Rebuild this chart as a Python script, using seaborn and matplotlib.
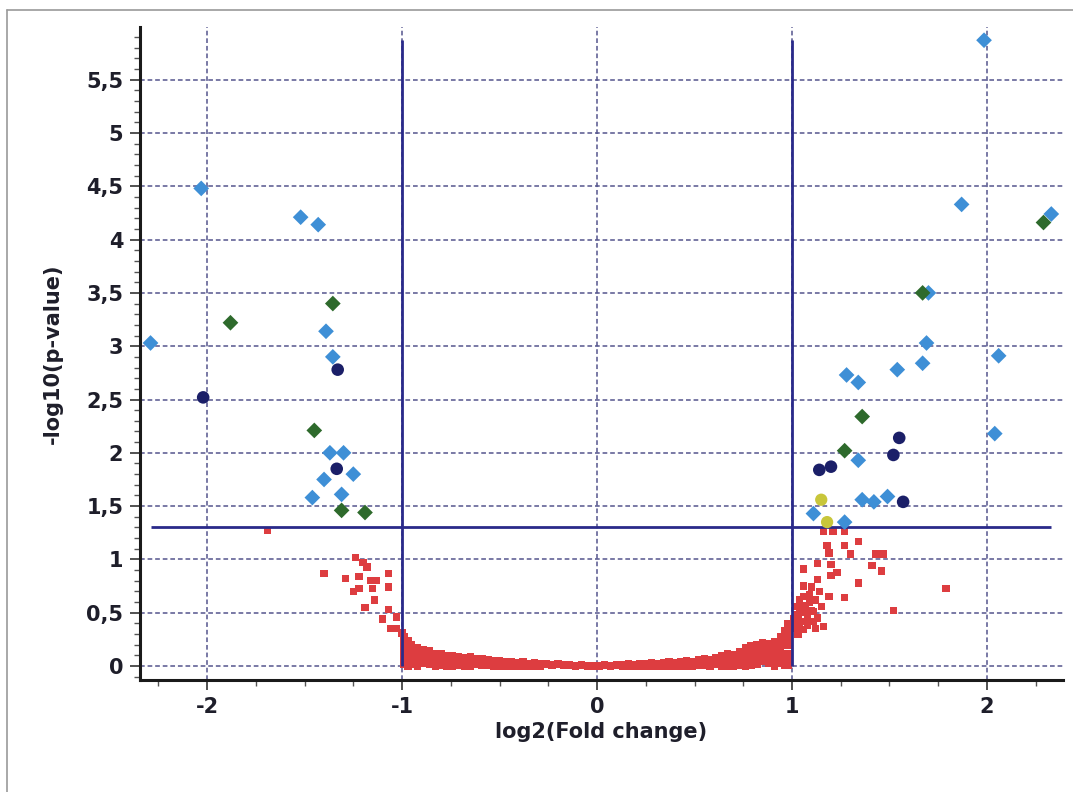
import matplotlib
matplotlib.use("Agg")
import matplotlib.pyplot as plt
import seaborn as sns
import pandas as pd
from matplotlib.lines import Line2D
from matplotlib.ticker import FixedLocator, MultipleLocator

# ---- significant proteins, by class ----
blue_x = [-2.29, -2.03, -1.52, -1.43, -1.39, -1.355, -1.37, -1.30, -1.40, -1.25, -1.46, -1.31,
          1.69, 1.67, 1.28, 1.34, 1.54, 2.06, 2.04, 1.34, 1.36, 1.42, 1.49, 1.11, 1.27,
          1.985, 1.87, 2.33, 1.70]
blue_y = [3.03, 4.48, 4.21, 4.14, 3.14, 2.90, 2.00, 2.00, 1.75, 1.80, 1.58, 1.61,
          3.03, 2.84, 2.73, 2.66, 2.78, 2.91, 2.18, 1.93, 1.56, 1.54, 1.59, 1.43, 1.35,
          5.87, 4.33, 4.24, 3.50]

green_x = [-1.88, -1.355, -1.45, -1.31, -1.19, 1.36, 1.27, 2.29, 1.67]
green_y = [3.22, 3.40, 2.21, 1.46, 1.44, 2.34, 2.02, 4.16, 3.50]

navy_x = [-2.02, -1.33, -1.335, 1.55, 1.52, 1.14, 1.20, 1.57]
navy_y = [2.52, 2.78, 1.85, 2.14, 1.98, 1.84, 1.87, 1.54]

yellow_x = [1.15, 1.18]
yellow_y = [1.56, 1.35]

# ---- non-significant proteins ----
ns_x = [-1.69, -1.24, -1.20, -1.18, -1.40, -1.29, -1.22, -1.07, -1.16, -1.13, -1.22, -1.25,
        -1.15, -1.07, -1.14, -1.19, -1.07, -1.10, -1.03, -1.06, -1.03, -1.00,
        1.16, 1.21, 1.27, 1.34, 1.27, 1.18, 1.19, 1.30, 1.43, 1.47, 1.13, 1.20, 1.41, 1.06,
        1.23, 1.46, 1.20, 1.13, 1.34, 1.79, 1.06, 1.10, 1.19, 1.27, 1.14, 1.06, 1.09, 1.52,
        1.06, 1.11, 1.02, 1.08, 1.16, 1.04, 1.02, 1.11, 1.06,
        1.01, 1.03, 1.05, 1.07, 1.04, 1.09, 1.02, 1.12, 1.08, 1.13, 1.15, 1.03, 1.10, 1.06,
        1.01, 1.04, 1.08, 1.12]
ns_y = [1.27, 1.02, 0.97, 0.93, 0.87, 0.82, 0.84, 0.87, 0.80, 0.80, 0.73, 0.70,
        0.73, 0.74, 0.62, 0.55, 0.53, 0.44, 0.46, 0.35, 0.35, 0.31,
        1.26, 1.26, 1.26, 1.17, 1.13, 1.13, 1.06, 1.05, 1.05, 1.05, 0.96, 0.95, 0.94, 0.91,
        0.88, 0.89, 0.85, 0.81, 0.78, 0.73, 0.75, 0.74, 0.65, 0.64, 0.70, 0.65, 0.60, 0.52,
        0.54, 0.51, 0.48, 0.45, 0.37, 0.40, 0.35, 0.42, 0.34,
        0.38, 0.44, 0.50, 0.57, 0.62, 0.67, 0.56, 0.62, 0.38, 0.45, 0.56, 0.30, 0.52, 0.42,
        0.44, 0.55, 0.50, 0.35]

# dense bulk of unchanged proteins, grouped by fold change
band_x = [-0.99, -0.97, -0.95, -0.92, -0.89, -0.86, -0.83, -0.80, -0.77, -0.74, -0.71, -0.68,
          -0.65, -0.62, -0.59, -0.56, -0.53, -0.50, -0.47, -0.44, -0.41, -0.38, -0.35, -0.32,
          -0.29, -0.26, -0.23, -0.20, -0.17, -0.14, -0.11, -0.08, -0.05, -0.02,
          0.01, 0.04, 0.07, 0.10, 0.13, 0.16, 0.19, 0.22, 0.25, 0.28, 0.31, 0.34, 0.37, 0.40,
          0.43, 0.46, 0.49, 0.52, 0.55, 0.58, 0.61, 0.64, 0.67, 0.70, 0.73, 0.76, 0.79, 0.82,
          0.85, 0.88, 0.91, 0.94, 0.96, 0.98]
band_y = [[0.28, 0.21, 0.14, 0.08, 0.02], [0.24, 0.17, 0.11, 0.05, 0.00], [0.20, 0.14, 0.08, 0.02],
          [0.17, 0.11, 0.05, 0.00], [0.15, 0.09, 0.03], [0.14, 0.08, 0.02], [0.12, 0.06, 0.00],
          [0.12, 0.06, 0.01], [0.10, 0.05, 0.00], [0.10, 0.04, 0.00], [0.09, 0.04, 0.01],
          [0.08, 0.03, 0.00], [0.09, 0.03, 0.00], [0.07, 0.02], [0.07, 0.01], [0.06, 0.01],
          [0.05, 0.00], [0.05, 0.00], [0.04, 0.00], [0.04, 0.00], [0.03, 0.00], [0.04, 0.00],
          [0.02, 0.00], [0.03, 0.00], [0.02, 0.00], [0.02], [0.01], [0.02], [0.01], [0.01],
          [0.00], [0.01], [0.00], [0.00],
          [0.00], [0.01], [0.00], [0.01], [0.01, 0.00], [0.02, 0.00], [0.01, 0.00], [0.02, 0.00],
          [0.02, 0.00], [0.03, 0.00], [0.02, 0.00], [0.03, 0.00], [0.04, 0.00], [0.03, 0.00],
          [0.04, 0.00], [0.05, 0.00], [0.04, 0.00], [0.06, 0.01], [0.07, 0.01], [0.06, 0.00],
          [0.08, 0.02], [0.10, 0.04, 0.00], [0.12, 0.06, 0.00], [0.11, 0.05, 0.00],
          [0.13, 0.07, 0.01], [0.17, 0.11, 0.05, 0.00], [0.19, 0.13, 0.07, 0.01],
          [0.20, 0.14, 0.08, 0.02], [0.22, 0.16, 0.10, 0.04], [0.21, 0.15, 0.09, 0.03],
          [0.23, 0.17, 0.11, 0.05, 0.00], [0.28, 0.21, 0.15, 0.09, 0.03],
          [0.33, 0.26, 0.19, 0.12, 0.06, 0.01], [0.40, 0.33, 0.26, 0.19, 0.12, 0.06, 0.01]]

x_ticks = [-2, -1, 0, 1, 2]
x_tick_labels = ["-2", "-1", "0", "1", "2"]
y_ticks = [0, 0.5, 1, 1.5, 2, 2.5, 3, 3.5, 4, 4.5, 5, 5.5]
y_tick_labels = ["0", "0,5", "1", "1,5", "2", "2,5", "3", "3,5", "4", "4,5", "5", "5,5"]

fc_cutoff = 1.0
p_cutoff = 1.3

# ---- tidy table ----
rows = []
for gx, gys in zip(band_x, band_y):
    for gy in gys:
        rows.append((gx, gy, "ns"))
rows += [(a, b, "ns") for a, b in zip(ns_x, ns_y)]
rows += [(a, b, "blue") for a, b in zip(blue_x, blue_y)]
rows += [(a, b, "green") for a, b in zip(green_x, green_y)]
rows += [(a, b, "navy") for a, b in zip(navy_x, navy_y)]
rows += [(a, b, "yellow") for a, b in zip(yellow_x, yellow_y)]
df = pd.DataFrame(rows, columns=["log2fc", "nlogp", "cls"])

sns.set_theme(style="white")
plt.rcParams["font.family"] = ["DejaVu Sans"]

fig = plt.figure(figsize=(10.73, 7.92), dpi=100)
ax = fig.add_axes([140 / 1073, 1 - 680 / 792, (1063 - 140) / 1073, (680 - 27) / 792])

red = "#dd3d40"
grid_c = "#55558e"
line_c = "#2a2a8a"
text_c = "#1e1e2a"

sns.scatterplot(data=df[df.cls == "ns"], x="log2fc", y="nlogp", marker="s", s=28,
                color=red, edgecolor="none", linewidth=0, ax=ax, zorder=3)

# significance cut-off lines spanning the data range
ymin, ymax = df.nlogp.min(), df.nlogp.max()
xmin, xmax = df.log2fc.min(), df.log2fc.max()
for xv in (-fc_cutoff, fc_cutoff):
    ax.plot([xv, xv], [ymin, ymax], color=line_c, lw=2.0, zorder=4, solid_capstyle="butt")
ax.plot([xmin, xmax], [p_cutoff, p_cutoff], color=line_c, lw=2.0, zorder=4,
        solid_capstyle="butt")

sns.scatterplot(data=df[df.cls == "blue"], x="log2fc", y="nlogp", marker="D", s=64,
                color="#3e8fd6", edgecolor="none", linewidth=0, ax=ax, zorder=5)
sns.scatterplot(data=df[df.cls == "navy"], x="log2fc", y="nlogp", marker="o", s=82,
                color="#1b1f68", edgecolor="none", linewidth=0, ax=ax, zorder=6)
sns.scatterplot(data=df[df.cls == "green"], x="log2fc", y="nlogp", marker="D", s=64,
                color="#2e6a2c", edgecolor="none", linewidth=0, ax=ax, zorder=6)
sns.scatterplot(data=df[df.cls == "yellow"], x="log2fc", y="nlogp", marker="o", s=78,
                color="#c8c63a", edgecolor="none", linewidth=0, ax=ax, zorder=5)

ax.set_xlim(-2.344, 2.39)
ax.set_ylim(-0.131, 5.994)

ax.xaxis.set_major_locator(FixedLocator(x_ticks))
ax.set_xticklabels(x_tick_labels)
ax.xaxis.set_minor_locator(MultipleLocator(0.25))
ax.yaxis.set_major_locator(FixedLocator(y_ticks))
ax.set_yticklabels(y_tick_labels)
ax.yaxis.set_minor_locator(MultipleLocator(0.1))

ax.grid(True, which="major", linestyle=(0, (2.6, 1.6)), color=grid_c, linewidth=1.3,
        alpha=0.85)
ax.set_axisbelow(True)

for side in ("top", "right"):
    ax.spines[side].set_visible(False)
for side in ("left", "bottom"):
    ax.spines[side].set_color("#1a1a1a")
    ax.spines[side].set_linewidth(2.2)

ax.tick_params(axis="both", which="major", direction="out", length=7, width=1.2,
               color="#333333", labelsize=15, labelcolor=text_c, pad=5,
               left=True, bottom=True)
ax.tick_params(axis="both", which="minor", direction="out", length=4, width=1.0,
               color="#555555", left=True, bottom=True)
for lab in ax.get_xticklabels() + ax.get_yticklabels():
    lab.set_fontweight("bold")

ax.set_xlabel("log2(Fold change)", fontsize=15, fontweight="bold", color=text_c, labelpad=4)
ax.set_ylabel("-log10(p-value)", fontsize=15, fontweight="bold", color=text_c, labelpad=17)

# outer panel border
fig.add_artist(Line2D([7 / 1073, 7 / 1073], [0, 1 - 10 / 792], transform=fig.transFigure,
                      color="#9a9a9a", lw=1.2))
fig.add_artist(Line2D([7 / 1073, 1], [1 - 10 / 792, 1 - 10 / 792], transform=fig.transFigure,
                      color="#9a9a9a", lw=1.2))

fig.savefig("out.png", dpi=100, facecolor="white")
